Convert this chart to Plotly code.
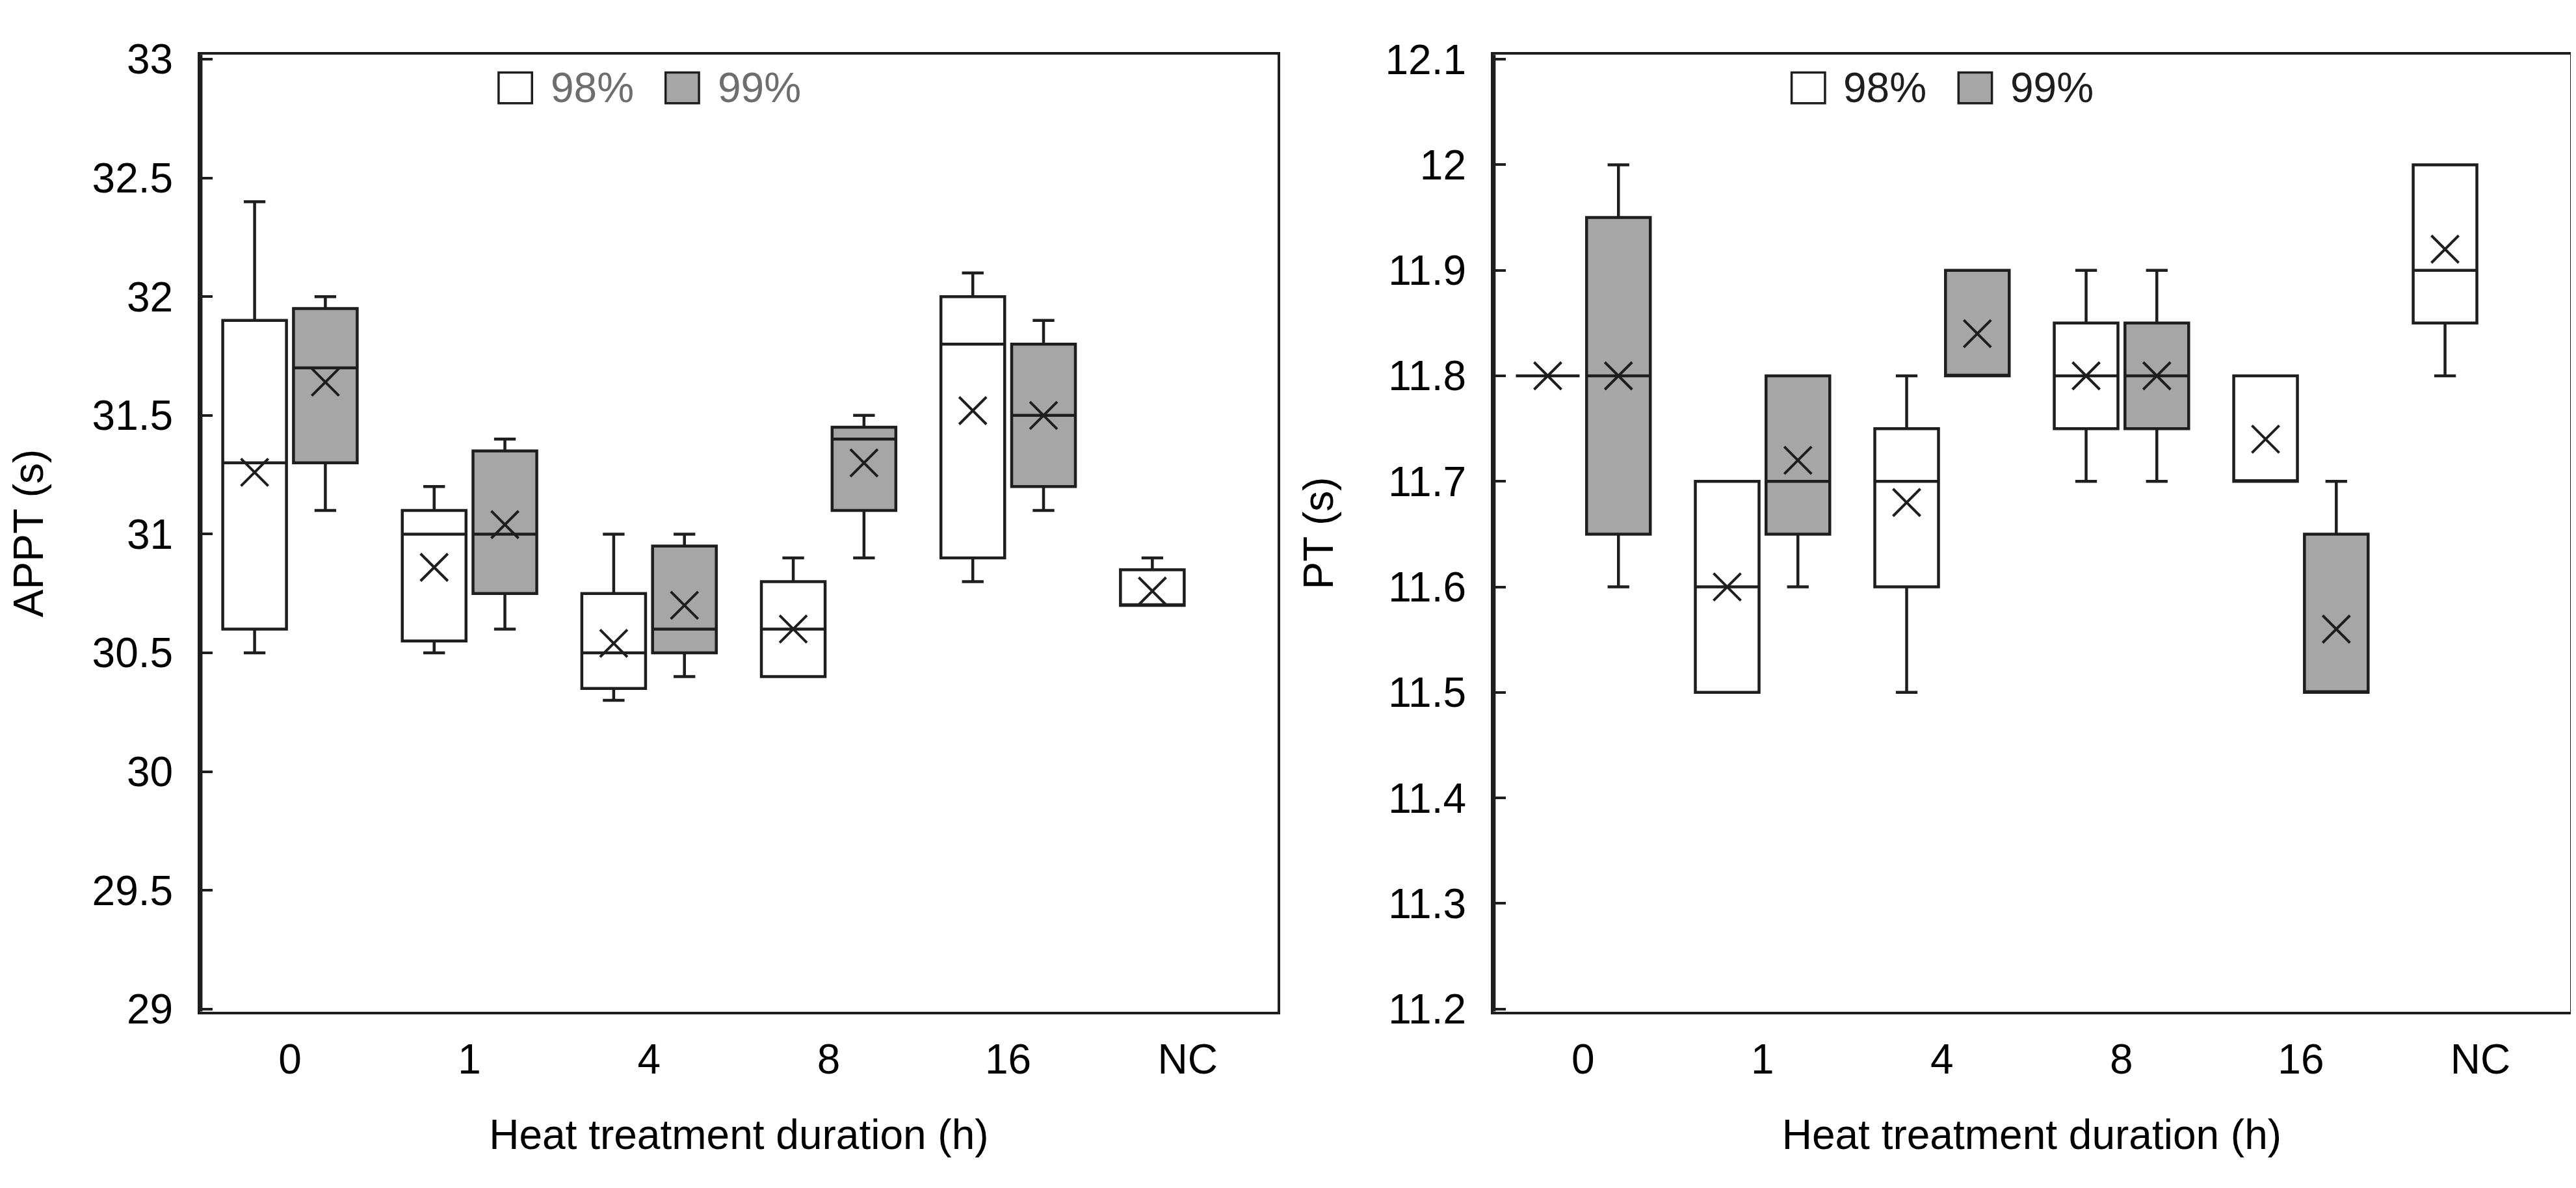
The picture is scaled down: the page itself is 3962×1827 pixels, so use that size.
import plotly.graph_objects as go
from plotly.subplots import make_subplots

durations = ["0", "1", "4", "8", "16", "NC"]

# APPT (s), 98% group (all six durations)
appt98_min = [30.5, 30.5, 30.3, 30.4, 30.8, 30.7]
appt98_q1 = [30.6, 30.55, 30.35, 30.4, 30.9, 30.7]
appt98_med = [31.3, 31.0, 30.5, 30.6, 31.8, 30.7]
appt98_q3 = [31.9, 31.1, 30.75, 30.8, 32.0, 30.85]
appt98_max = [32.4, 31.2, 31.0, 30.9, 32.1, 30.9]
appt98_mean = [31.26, 30.86, 30.54, 30.6, 31.52, 30.76]

# APPT (s), 99% group (no NC)
appt99_min = [31.1, 30.6, 30.4, 30.9, 31.1]
appt99_q1 = [31.3, 30.75, 30.5, 31.1, 31.2]
appt99_med = [31.7, 31.0, 30.6, 31.4, 31.5]
appt99_q3 = [31.95, 31.35, 30.95, 31.45, 31.8]
appt99_max = [32.0, 31.4, 31.0, 31.5, 31.9]
appt99_mean = [31.64, 31.04, 30.7, 31.3, 31.5]

# PT (s), 98% group
pt98_min = [11.8, 11.5, 11.5, 11.7, 11.7, 11.8]
pt98_q1 = [11.8, 11.5, 11.6, 11.75, 11.7, 11.85]
pt98_med = [11.8, 11.6, 11.7, 11.8, 11.7, 11.9]
pt98_q3 = [11.8, 11.7, 11.75, 11.85, 11.8, 12.0]
pt98_max = [11.8, 11.7, 11.8, 11.9, 11.8, 12.0]
pt98_mean = [11.8, 11.6, 11.68, 11.8, 11.74, 11.92]

# PT (s), 99% group
pt99_min = [11.6, 11.6, 11.8, 11.7, 11.5]
pt99_q1 = [11.65, 11.65, 11.8, 11.75, 11.5]
pt99_med = [11.8, 11.7, 11.8, 11.8, 11.5]
pt99_q3 = [11.95, 11.8, 11.9, 11.85, 11.65]
pt99_max = [12.0, 11.8, 11.9, 11.9, 11.7]
pt99_mean = [11.8, 11.72, 11.84, 11.8, 11.56]

FONT = "Arial, Liberation Sans, sans-serif"
INK = "#1e1e1e"
GREY_FILL = "#a6a6a6"
OFFSET = 0.197
BOX_W = 0.355

fig = make_subplots(rows=1, cols=2)


def add_group(col, lo, q1, med, q3, hi, mean, fill, side):
    pos = [i + side * OFFSET for i in range(len(med))]
    fig.add_trace(
        go.Box(
            x=pos, lowerfence=lo, q1=q1, median=med, q3=q3, upperfence=hi,
            width=BOX_W, whiskerwidth=0.34, fillcolor=fill,
            line=dict(color=INK, width=4.5), boxpoints=False,
            hoverinfo="skip", showlegend=False,
        ),
        row=1, col=col,
    )
    # mean shown as a cross
    fig.add_trace(
        go.Scatter(
            x=pos, y=mean, mode="markers", hoverinfo="skip", showlegend=False,
            marker=dict(symbol="x-thin", size=42, color=INK,
                        line=dict(color=INK, width=4)),
        ),
        row=1, col=col,
    )


add_group(1, appt98_min, appt98_q1, appt98_med, appt98_q3, appt98_max, appt98_mean, "white", -1)
add_group(1, appt99_min, appt99_q1, appt99_med, appt99_q3, appt99_max, appt99_mean, GREY_FILL, 1)
add_group(2, pt98_min, pt98_q1, pt98_med, pt98_q3, pt98_max, pt98_mean, "white", -1)
add_group(2, pt99_min, pt99_q1, pt99_med, pt99_q3, pt99_max, pt99_mean, GREY_FILL, 1)

xcommon = dict(
    range=[-0.5, 5.5], tickvals=list(range(len(durations))), ticktext=durations,
    showline=True, mirror=True, linecolor=INK, linewidth=4, ticks="",
    showgrid=False, zeroline=False, ticklabelstandoff=15,
    tickfont=dict(family=FONT, size=64, color="#000"),
    title=dict(text="Heat treatment duration (h)", standoff=59,
               font=dict(family=FONT, size=64, color="#000")),
)
ycommon = dict(
    showline=True, mirror=True, linecolor=INK, linewidth=4,
    ticks="inside", ticklen=19, tickwidth=3.5, tickcolor=INK,
    showgrid=False, zeroline=False, ticklabelstandoff=25,
    tickfont=dict(family=FONT, size=64, color="#000"),
)

fig.update_xaxes(domain=[0.0757, 0.4939], row=1, col=1, **xcommon)
fig.update_xaxes(domain=[0.5777, 0.9957], row=1, col=2, **xcommon)
fig.update_yaxes(domain=[0.1401, 0.9732], row=1, col=1, range=[28.9894, 33.0185],
                 tick0=29, dtick=0.5,
                 title=dict(text="APPT (s)", standoff=60,
                            font=dict(family=FONT, size=64, color="#000")),
                 **ycommon)
fig.update_yaxes(domain=[0.1401, 0.9732], row=1, col=2, range=[11.1976, 12.1042],
                 tick0=11.2, dtick=0.1,
                 title=dict(text="PT (s)", standoff=60,
                            font=dict(family=FONT, size=64, color="#000")),
                 **ycommon)

# heavier left spine, as in the original figure
for yr in ["y domain", "y2 domain"]:
    xr = "x domain" if yr == "y domain" else "x2 domain"
    fig.add_shape(type="line", xref=xr, yref=yr, x0=0, x1=0, y0=0, y1=1,
                  line=dict(color=INK, width=7))

# legend drawn inside each panel: swatch + label
legend_items = [("98%", "white", 0.277), ("99%", GREY_FILL, 0.432)]
label_colours = ["#6e6e6e", "#1e1e1e"]
for k, (xr, yr) in enumerate([("x domain", "y domain"), ("x2 domain", "y2 domain")]):
    for label, fill, x0 in legend_items:
        fig.add_shape(type="rect", xref=xr, yref=yr, x0=x0, x1=x0 + 0.031,
                      y0=0.9494, y1=0.9816, fillcolor=fill,
                      line=dict(color=INK, width=3.5))
        fig.add_annotation(xref=xr, yref=yr, x=x0 + 0.047, y=0.9655,
                           xanchor="left", yanchor="middle", showarrow=False,
                           text=label,
                           font=dict(family=FONT, size=64, color=label_colours[k]))

fig.update_layout(
    width=3962, height=1827,
    margin=dict(l=0, r=0, t=0, b=0),
    paper_bgcolor="white", plot_bgcolor="white",
    font=dict(family=FONT, color="#000"),
)

fig.write_html("out.html")
